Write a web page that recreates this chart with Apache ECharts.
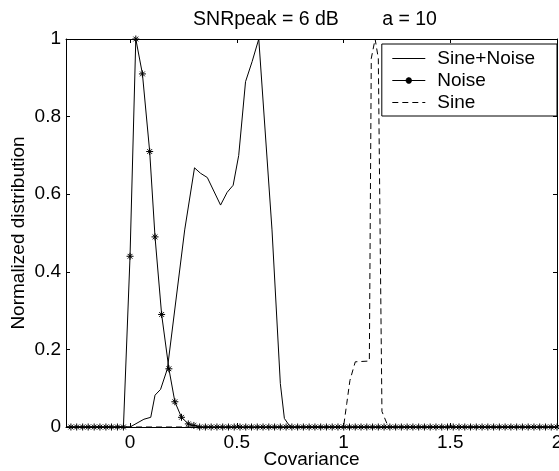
<!DOCTYPE html>
<html>
<head>
<meta charset="utf-8">
<script src="https://cdn.jsdelivr.net/npm/echarts@6/dist/echarts.min.js"></script>
<style>
  html, body { margin: 0; padding: 0; background: #fff; }
  #chart { width: 559px; height: 471px; }
</style>
</head>
<body>
<div id="chart"></div>
<script>
// values
const noiseX = [
  -0.277, -0.250, -0.222, -0.196, -0.168, -0.141, -0.113, -0.087, -0.059, -0.031,
  0.000, 0.027, 0.058, 0.092, 0.117, 0.148, 0.182, 0.210, 0.241, 0.273,
  0.299, 0.326, 0.353, 0.380, 0.407, 0.434, 0.461, 0.488, 0.515, 0.542,
  0.569, 0.596, 0.623, 0.650, 0.677, 0.704, 0.731, 0.758, 0.785, 0.812,
  0.839, 0.866, 0.893, 0.920, 0.947, 0.974, 1.001, 1.028, 1.055, 1.082,
  1.109, 1.136, 1.163, 1.190, 1.217, 1.244, 1.271, 1.298, 1.325, 1.352,
  1.379, 1.406, 1.433, 1.460, 1.487, 1.514, 1.541, 1.568, 1.595, 1.622,
  1.649, 1.676, 1.703, 1.730, 1.757, 1.784, 1.811, 1.838, 1.865, 1.892,
  1.919, 1.946, 1.973, 2.000
]
const noiseY = [
  0, 0, 0, 0, 0, 0, 0, 0, 0, 0,
  0.44, 1.0, 0.91, 0.71, 0.49, 0.29, 0.15, 0.065, 0.025, 0.008,
  0.004, 0, 0, 0, 0, 0, 0, 0, 0, 0,
  0, 0, 0, 0, 0, 0, 0, 0, 0, 0,
  0, 0, 0, 0, 0, 0, 0, 0, 0, 0,
  0, 0, 0, 0, 0, 0, 0, 0, 0, 0,
  0, 0, 0, 0, 0, 0, 0, 0, 0, 0,
  0, 0, 0, 0, 0, 0, 0, 0, 0, 0,
  0, 0, 0, 0
]

const sineNoiseX = [-0.3, 0, 0.065, 0.097, 0.117, 0.143, 0.175, 0.256, 0.302, 0.330, 0.362,
  0.424, 0.455, 0.483, 0.509, 0.541, 0.572, 0.603, 0.665, 0.704, 0.723, 0.751, 2.0]
const sineNoiseY = [0, 0, 0.02, 0.025, 0.082, 0.097, 0.15, 0.508, 0.668, 0.654, 0.643,
  0.572, 0.605, 0.623, 0.70, 0.89, 0.942, 1.0, 0.508, 0.112, 0.022, 0, 0]

const sineX = [-0.3, 1.0, 1.015, 1.03, 1.055, 1.121, 1.13, 1.148, 1.163, 1.18, 1.21, 2.0]
const sineY = [0, 0, 0.06, 0.12, 0.168, 0.17, 0.95, 1.0, 0.95, 0.04, 0, 0]

const xTicks = [0, 0.5, 1, 1.5, 2]
const titleText = 'SNRpeak = 6 dB        a = 10'

const font = "'Liberation Sans', Arial, sans-serif"
const zip = (xs, ys) => xs.map((x, i) => [x, ys[i]])
const starPath = 'path://M5,0L5,10M0,5L10,5M1.6,1.6L8.4,8.4M1.6,8.4L8.4,1.6'
// line-only legend entries: hide the default marker, keep the line
const noMarker = { color: 'rgba(0,0,0,0)', borderWidth: 0 }

const chart = echarts.init(document.getElementById('chart'))

const axisLineStyle = { show: true, onZero: false, lineStyle: { color: '#000', width: 1 } }
const tickStyle = { color: '#000', width: 1 }

const option = {
  animation: false,
  backgroundColor: '#fff',
  title: {
    text: titleText,
    left: 310,
    textAlign: 'center',
    top: 5,
    textStyle: { fontSize: 19.5, fontWeight: 'normal', fontFamily: font, color: '#000' }
  },
  grid: { left: 66, right: 2, top: 39, bottom: 44, outerBoundsMode: 'none', containLabel: false },
  legend: {
    data: [
      { name: 'Sine+Noise', itemStyle: noMarker },
      { name: 'Noise' },
      { name: 'Sine', itemStyle: noMarker }
    ],
    orient: 'vertical',
    right: 2,
    top: 44,
    padding: [5, 22, 4, 10],
    itemWidth: 33,
    itemHeight: 8,
    itemGap: 3,
    borderColor: '#000',
    borderWidth: 1,
    backgroundColor: '#fff',
    lineStyle: { width: 1 },
    textStyle: { fontSize: 19, fontFamily: font, color: '#000', lineHeight: 19, padding: [0, 0, 0, 7] }
  },
  xAxis: [
    {
      type: 'value',
      min: -0.3,
      max: 2,
      position: 'bottom',
      axisLine: axisLineStyle,
      axisTick: { inside: true, length: 4, customValues: xTicks, lineStyle: tickStyle },
      axisLabel: { customValues: xTicks, color: '#000', fontSize: 19, fontFamily: font, margin: 6 },
      splitLine: { show: false },
      name: 'Covariance',
      nameLocation: 'middle',
      nameGap: 23,
      nameMoveOverlap: false,
      nameTextStyle: { fontSize: 19, fontFamily: font, color: '#000' }
    },
    {
      type: 'value',
      min: -0.3,
      max: 2,
      position: 'top',
      axisLine: axisLineStyle,
      axisTick: { inside: true, length: 4, customValues: xTicks, lineStyle: tickStyle },
      axisLabel: { show: false },
      splitLine: { show: false }
    }
  ],
  yAxis: [
    {
      type: 'value',
      min: 0,
      max: 1,
      interval: 0.2,
      position: 'left',
      axisLine: axisLineStyle,
      axisTick: { inside: true, length: 4, lineStyle: tickStyle },
      axisLabel: { color: '#000', fontSize: 19, fontFamily: font, margin: 5 },
      splitLine: { show: false },
      name: 'Normalized distribution',
      nameLocation: 'middle',
      nameGap: 38,
      nameMoveOverlap: false,
      nameTextStyle: { fontSize: 19, fontFamily: font, color: '#000' }
    },
    {
      type: 'value',
      min: 0,
      max: 1,
      interval: 0.2,
      position: 'right',
      axisLine: axisLineStyle,
      axisTick: { inside: true, length: 4, lineStyle: tickStyle },
      axisLabel: { show: false },
      splitLine: { show: false }
    }
  ],
  series: [
    {
      name: 'Sine+Noise',
      type: 'line',
      data: zip(sineNoiseX, sineNoiseY),
      symbol: 'none',
      lineStyle: { color: '#000', width: 1 },
      itemStyle: { color: '#000' }
    },
    {
      name: 'Noise',
      type: 'line',
      data: zip(noiseX, noiseY),
      symbol: starPath,
      symbolSize: 7,
      lineStyle: { color: '#000', width: 1 },
      itemStyle: { color: '#000', borderColor: '#000', borderWidth: 1 }
    },
    {
      name: 'Sine',
      type: 'line',
      data: zip(sineX, sineY),
      symbol: 'none',
      lineStyle: { color: '#000', width: 1, type: [6, 4] },
      itemStyle: { color: '#000' }
    }
  ]
}

chart.setOption(option)
</script>
</body>
</html>
